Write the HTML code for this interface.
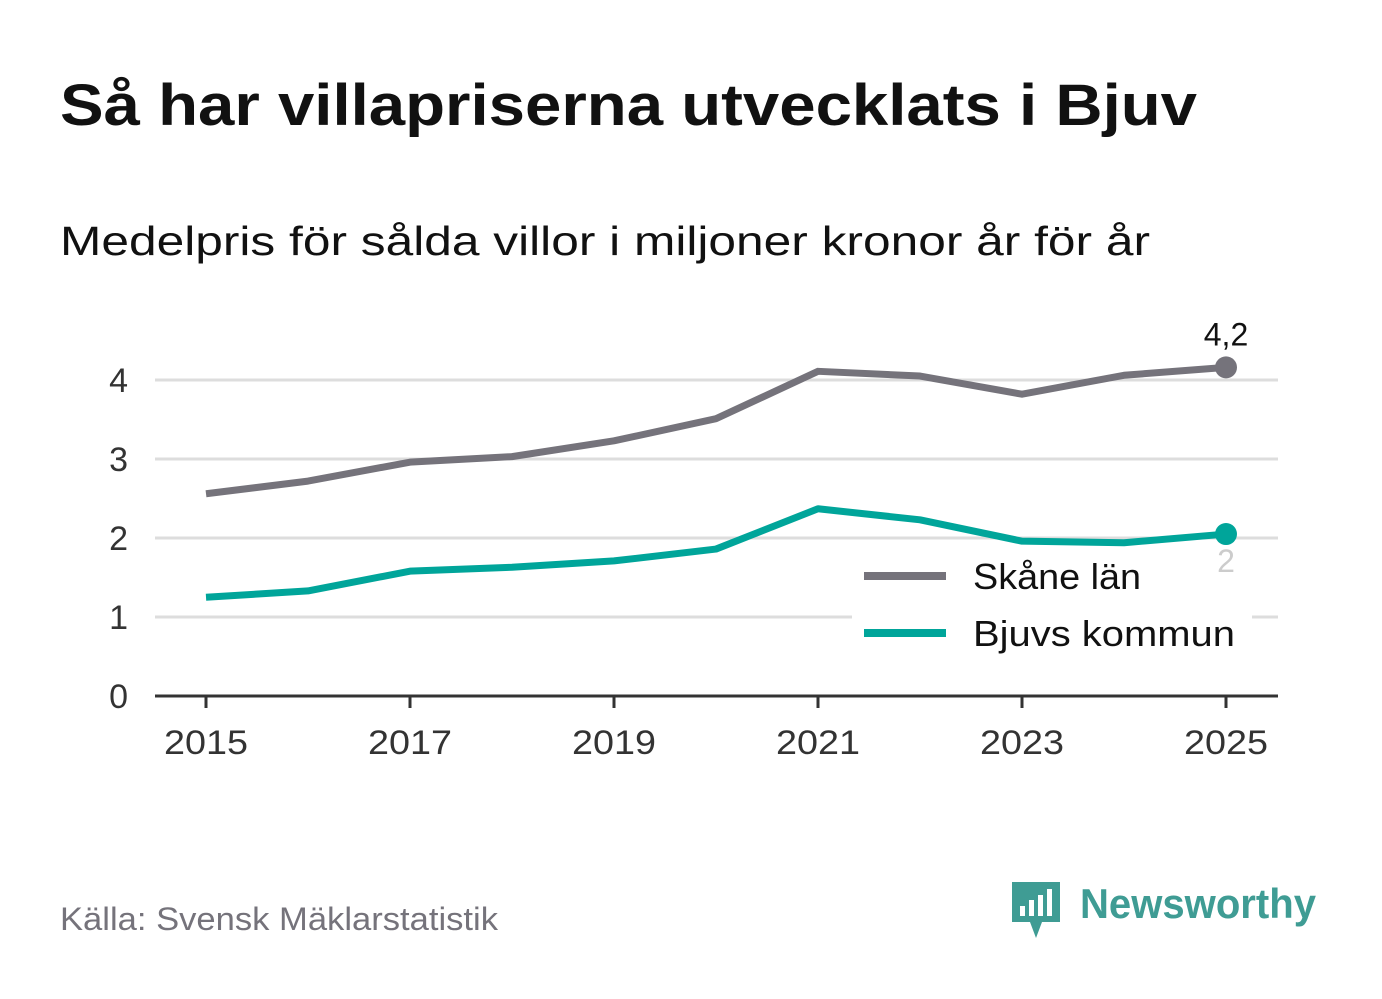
<!DOCTYPE html>
<html><head><meta charset="utf-8"><style>
body{margin:0;background:#fff;width:1382px;height:999px;overflow:hidden;font-family:"Liberation Sans",sans-serif}
</style></head><body>
<svg width="1382" height="999" style="position:absolute;left:0;top:0">
<text x="60" y="125" font-size="58" font-weight="bold" fill="#111" textLength="1137" lengthAdjust="spacingAndGlyphs">Så har villapriserna utvecklats i Bjuv</text>
<text x="60" y="255" font-size="41" fill="#111" textLength="1090" lengthAdjust="spacingAndGlyphs">Medelpris för sålda villor i miljoner kronor år för år</text>
<g id="grid"></g><g id="lines"></g>
<g>
<rect x="852" y="550" width="400" height="100" fill="#fff"/>
<line x1="864" y1="576" x2="946" y2="576" stroke="#75737b" stroke-width="8"/>
<text x="973" y="589" font-size="36" fill="#111" textLength="168" lengthAdjust="spacingAndGlyphs">Skåne län</text>
<line x1="864" y1="633" x2="946" y2="633" stroke="#00a59a" stroke-width="8"/>
<text x="973" y="646" font-size="36" fill="#111" textLength="262" lengthAdjust="spacingAndGlyphs">Bjuvs kommun</text>
</g>
<g id="labels"></g>
<text x="60" y="930" font-size="32" fill="#75737b" textLength="438" lengthAdjust="spacingAndGlyphs">Källa: Svensk Mäklarstatistik</text>
<g>
<path d="M1012 882 h48 v40 h-18 l-6 16 l-6 -16 h-18 z" fill="#3f9c94"/>
<rect x="1020" y="906" width="5" height="10" fill="#fff"/><rect x="1029" y="900" width="5" height="16" fill="#fff"/><rect x="1038" y="895" width="5" height="21" fill="#fff"/><rect x="1047" y="889" width="5" height="27" fill="#fff"/>
<text x="1080" y="918" font-size="42" font-weight="bold" fill="#3f9c94" textLength="236" lengthAdjust="spacingAndGlyphs">Newsworthy</text>
</g>
</svg>
<script>
const years=[2015,2016,2017,2018,2019,2020,2021,2022,2023,2024,2025];
const skane=[2.56,2.72,2.96,3.03,3.23,3.51,4.11,4.05,3.82,4.06,4.16];
const bjuv=[1.25,1.33,1.58,1.63,1.71,1.86,2.37,2.23,1.96,1.94,2.05];
const yTicks=[0,1,2,3,4];
const xTicks=[2015,2017,2019,2021,2023,2025];
const NS="http://www.w3.org/2000/svg";
const X=v=>206+(v-2015)*102, Y=v=>696-v*79;
function mk(t,a,p){const e=document.createElementNS(NS,t);for(const k in a)e.setAttribute(k,a[k]);p.appendChild(e);return e;}
const g=document.getElementById('grid'), L=document.getElementById('lines'), LB=document.getElementById('labels');
yTicks.forEach(t=>{
 if(t>0){const l=mk('line',{x1:155,x2:1278,y1:Y(t),y2:Y(t),stroke:'#ddd','stroke-width':3},g);
 
 }
 const tx=mk('text',{x:128,y:Y(t)+12,'font-size':34,fill:'#333','text-anchor':'end'},g);tx.textContent=t;
 
 
});
const ax=mk('line',{x1:155,x2:1278,y1:696,y2:696,stroke:'#333','stroke-width':3},g);


xTicks.forEach(t=>{
 const tk=mk('line',{x1:X(t),x2:X(t),y1:696,y2:708,stroke:'#333','stroke-width':3},g);
 
 
 const tx=mk('text',{x:X(t),y:754,'font-size':34,fill:'#333','text-anchor':'middle',textLength:84,lengthAdjust:'spacingAndGlyphs'},g);tx.textContent=t;
 
 
});
function series(vals,col,name,lab,labY,labCol){
 const p=mk('polyline',{points:vals.map((v,i)=>X(years[i])+','+Y(v)).join(' '),fill:'none',stroke:col,'stroke-width':7,'stroke-linejoin':'round'},L);
 
 
 const n=vals.length-1;
 const c=mk('circle',{cx:X(years[n]),cy:Y(vals[n]),r:11,fill:col},L);
 
 
 const t=mk('text',{x:X(years[n]),y:Y(vals[n])+labY,'font-size':32,fill:labCol,'text-anchor':'middle'},LB);
 t.textContent=lab;
 
 
}
series(skane,'#75737b','skane','4,2',-22,'#111');
series(bjuv,'#00a59a','bjuv','2',38,'#ccc');
</script>
</body></html>
